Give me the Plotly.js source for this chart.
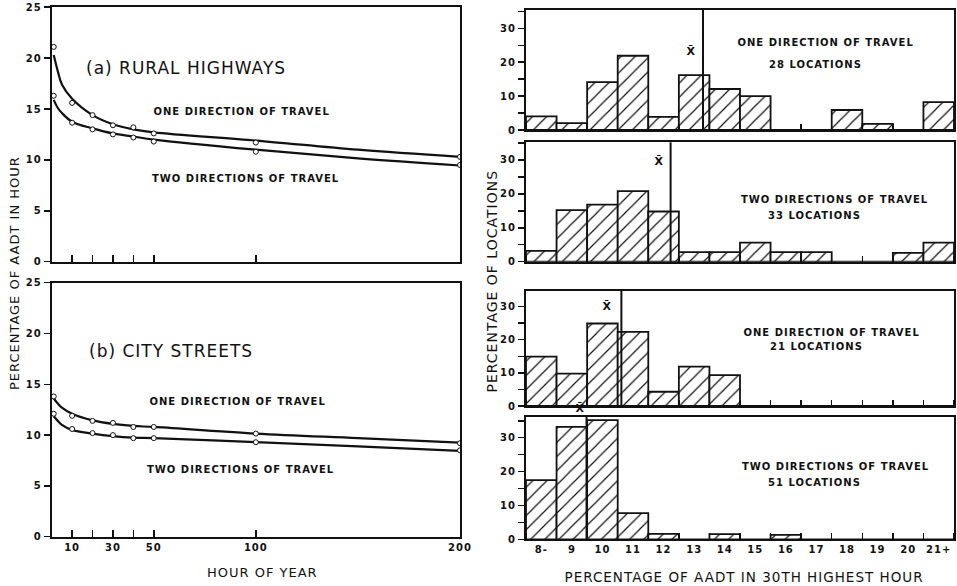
<!DOCTYPE html>
<html>
<head>
<meta charset="utf-8">
<script src="https://cdn.plot.ly/plotly-3.0.1.min.js"></script>
<style>
  html, body { margin: 0; padding: 0; background: #fff; }
  #chart { width: 957px; height: 586px; }
  #chart svg text { letter-spacing: 1px; }
</style>
</head>
<body>
<div id="chart"></div>
<script>
// ---------- Left panels: percentage of AADT in hour vs hour of year ----------
const pointHours = [1, 10, 20, 30, 40, 50, 100, 200];
const ruralOnePts = [21.1, 15.6, 14.4, 13.4, 13.2, 12.6, 11.7, 10.3];
const ruralTwoPts = [16.3, 13.65, 13.0, 12.5, 12.2, 11.8, 10.8, 9.5];
const cityOnePts  = [13.8, 11.9, 11.4, 11.2, 10.8, 10.8, 10.15, 9.2];
const cityTwoPts  = [12.1, 10.6, 10.2, 10.0, 9.7, 9.7, 9.3, 8.5];

// smooth fitted curves
const curveHours = [1, 3, 5, 10, 20, 30, 40, 50, 100, 150, 200];
const ruralOneCurve = [20.3, 18.7, 17.4, 16.0, 14.4, 13.5, 13.0, 12.7, 11.9, 11.0, 10.3];
const ruralTwoCurve = [15.9, 15.1, 14.6, 13.75, 13.1, 12.6, 12.3, 12.0, 11.0, 10.15, 9.45];
const cityOneCurve  = [13.6, 13.1, 12.7, 12.1, 11.45, 11.1, 10.9, 10.8, 10.15, 9.7, 9.25];
const cityTwoCurve  = [11.85, 11.4, 11.0, 10.5, 10.15, 9.9, 9.75, 9.7, 9.3, 8.9, 8.45];

const hourTickVals = [10, 20, 30, 40, 50, 100, 200];
const hourTickText = ['10', '', '30', '', '50', '100', '200'];

// ---------- Right panels: histograms ----------
const binLabels  = ['8-', '9', '10', '11', '12', '13', '14', '15', '16', '17', '18', '19', '20', '21+'];
const binCenters = [8, 9, 10, 11, 12, 13, 14, 15, 16, 17, 18, 19, 20, 21];
const oneDir28 = [4.0, 2.0, 14.1, 21.9, 3.9, 16.2, 12.1, 10.0, 0, 0, 5.9, 1.8, 0, 8.2];
const twoDir33 = [3.2, 15.2, 16.8, 20.8, 14.8, 2.8, 2.8, 5.6, 2.8, 2.8, 0, 0, 2.6, 5.6];
const oneDir21 = [14.9, 9.8, 24.9, 22.4, 4.3, 11.9, 9.3, 0, 0, 0, 0, 0, 0, 0];
const twoDir51 = [17.5, 33.2, 35.2, 7.7, 1.6, 0, 1.5, 0, 1.3, 0, 0, 0, 0, 0];
const meanPct  = [13.29, 12.23, 10.62, 9.48];
const histLine1 = ['ONE DIRECTION OF TRAVEL', 'TWO DIRECTIONS OF TRAVEL', 'ONE DIRECTION OF TRAVEL', 'TWO DIRECTIONS OF TRAVEL'];
const histLine2 = ['28 LOCATIONS', '33 LOCATIONS', '21 LOCATIONS', '51 LOCATIONS'];

// ---------- helpers (layout only) ----------
const W = 957, H = 586;
const px = x => x / W;
const py = y => 1 - y / H;
const FONT = 'DejaVu Sans';

const traces = [];
function curvePair(xa, ya, curve, pts) {
  traces.push({
    x: curveHours, y: curve, xaxis: xa, yaxis: ya, type: 'scatter', mode: 'lines',
    line: { color: '#111', width: 2.2, shape: 'spline', smoothing: 1.0 },
    hoverinfo: 'skip', showlegend: false
  });
  traces.push({
    x: pointHours, y: pts, xaxis: xa, yaxis: ya, type: 'scatter', mode: 'markers',
    marker: { symbol: 'circle', size: 5, color: '#fff', line: { color: '#111', width: 1 } },
    showlegend: false
  });
}
curvePair('x', 'y', ruralOneCurve, ruralOnePts);
curvePair('x', 'y', ruralTwoCurve, ruralTwoPts);
curvePair('x2', 'y2', cityOneCurve, cityOnePts);
curvePair('x2', 'y2', cityTwoCurve, cityTwoPts);

const histData = [oneDir28, twoDir33, oneDir21, twoDir51];
histData.forEach((vals, i) => {
  traces.push({
    type: 'bar', x: binCenters, y: vals, width: 1,
    xaxis: 'x' + (i + 3), yaxis: 'y' + (i + 3),
    marker: {
      color: '#fff',
      line: { color: '#111', width: 1.8 },
      pattern: { shape: '/', fgcolor: '#111', bgcolor: '#fff', size: 10, solidity: 0.12 }
    },
    showlegend: false
  });
});

const axLine = { showline: true, mirror: true, linecolor: '#111', linewidth: 2, zeroline: false, showgrid: false };
const tickFont = { family: FONT, size: 10, color: '#111', weight: 'bold' };

const layout = {
  width: W, height: H,
  margin: { l: 0, r: 0, t: 0, b: 0 },
  paper_bgcolor: '#fff', plot_bgcolor: '#fff',
  font: { family: FONT, size: 10, color: '#111' },
  bargap: 0,
  showlegend: false,
  // left top
  xaxis: Object.assign({}, axLine, { domain: [px(51.7), px(460)], range: [0, 200], anchor: 'y',
    tickmode: 'array', tickvals: hourTickVals, showticklabels: false,
    ticks: 'inside', ticklen: 7, tickwidth: 1.5, tickcolor: '#111' }),
  yaxis: Object.assign({}, axLine, { domain: [py(261.7), py(7.2)], range: [0, 25], anchor: 'x',
    tickmode: 'linear', tick0: 0, dtick: 5, ticks: 'outside', ticklen: 6, tickwidth: 1.5, tickcolor: '#111',
    tickfont: tickFont }),
  // left bottom
  xaxis2: Object.assign({}, axLine, { domain: [px(51.7), px(460)], range: [0, 200], anchor: 'y2',
    tickmode: 'array', tickvals: hourTickVals, ticktext: hourTickText,
    ticks: 'inside', ticklen: 7, tickwidth: 1.5, tickcolor: '#111', tickfont: tickFont }),
  yaxis2: Object.assign({}, axLine, { domain: [py(536.7), py(282.7)], range: [0, 25], anchor: 'x2',
    tickmode: 'linear', tick0: 0, dtick: 5, ticks: 'outside', ticklen: 6, tickwidth: 1.5, tickcolor: '#111',
    tickfont: tickFont }),
  annotations: [], shapes: []
};

const rightPanels = [
  { top: 10, bottom: 130, ymax: 35.4 },
  { top: 142.3, bottom: 261.7, ymax: 35.2 },
  { top: 290.7, bottom: 406, ymax: 34.8 },
  { top: 416.7, bottom: 539.3, ymax: 36.2 }
];
rightPanels.forEach((p, i) => {
  const n = i + 3;
  const isLast = i === 3;
  layout['xaxis' + n] = Object.assign({}, axLine, {
    domain: [px(526), px(954)], range: [7.5, 21.5], anchor: 'y' + n,
    tickmode: 'array', tickvals: binCenters, ticktext: binLabels, ticks: '',
    showticklabels: isLast, tickfont: tickFont,
    minor: { ticks: 'inside', tick0: 8.5, dtick: 1, ticklen: 6, tickwidth: 1.5, tickcolor: '#111' }
  });
  layout['yaxis' + n] = Object.assign({}, axLine, {
    domain: [py(p.bottom), py(p.top)], range: [0, p.ymax], anchor: 'x' + n,
    tickmode: 'linear', tick0: 0, dtick: 10, ticks: 'outside', ticklen: 6, tickwidth: 1.5, tickcolor: '#111',
    tickfont: tickFont,
    minor: { ticks: 'outside', tick0: 5, dtick: 10, ticklen: 6, tickwidth: 1.5, tickcolor: '#111' }
  });
  layout.shapes.push({
    type: 'line', xref: 'x' + n, yref: 'y' + n + ' domain',
    x0: meanPct[i], x1: meanPct[i], y0: 0, y1: 1,
    line: { color: '#111', width: 2 }
  });
});

function ann(text, cx, cy, size, opts) {
  layout.annotations.push(Object.assign({
    text: text, xref: 'paper', yref: 'paper', x: px(cx), y: py(cy),
    showarrow: false, xanchor: 'center', yanchor: 'middle',
    font: { family: FONT, size: size, color: '#111', weight: 'bold' }
  }, opts || {}));
}

// left panel labels (centred)
const headFont = { family: FONT, size: 17, color: '#111' };
ann('(a) RURAL HIGHWAYS', 186, 68, 17, { font: headFont });
ann('ONE DIRECTION OF TRAVEL', 242, 112, 10);
ann('TWO DIRECTIONS OF TRAVEL', 246, 178, 10);
ann('(b) CITY STREETS', 171, 351, 17, { font: headFont });
ann('ONE DIRECTION OF TRAVEL', 238, 401, 10);
ann('TWO DIRECTIONS OF TRAVEL', 241, 469, 10);

// right panel labels (centred)
const l1pos = [[826, 42.3], [835, 199], [832, 332.7], [836, 466.7]];
const l2pos = [[815, 65], [814, 215], [816, 346], [814, 482.3]];
histLine1.forEach((t, i) => ann(t, l1pos[i][0], l1pos[i][1], 10));
histLine2.forEach((t, i) => ann(t, l2pos[i][0], l2pos[i][1], 10));

// x-bar labels
const xbarPos = [[691.7, 51.7], [659.3, 161], [607.3, 306.7], [580, 409]];
xbarPos.forEach(p => ann('X\u0304', p[0], p[1], 11));

// axis titles
const titleFont = { family: FONT, size: 13, color: '#111' };
ann('HOUR OF YEAR', 262, 572, 13, { font: titleFont });
ann('PERCENTAGE OF AADT IN 30TH HIGHEST HOUR', 744, 577, 13.5, { font: { family: FONT, size: 13.5, color: '#111' } });
ann('PERCENTAGE OF AADT IN HOUR', 15, 273, 13, { font: titleFont, textangle: -90 });
ann('PERCENTAGE OF LOCATIONS', 492, 281, 14, { font: { family: FONT, size: 14, color: '#111' }, textangle: -90 });

Plotly.newPlot('chart', traces, layout, { staticPlot: true, displayModeBar: false });
</script>
</body>
</html>
